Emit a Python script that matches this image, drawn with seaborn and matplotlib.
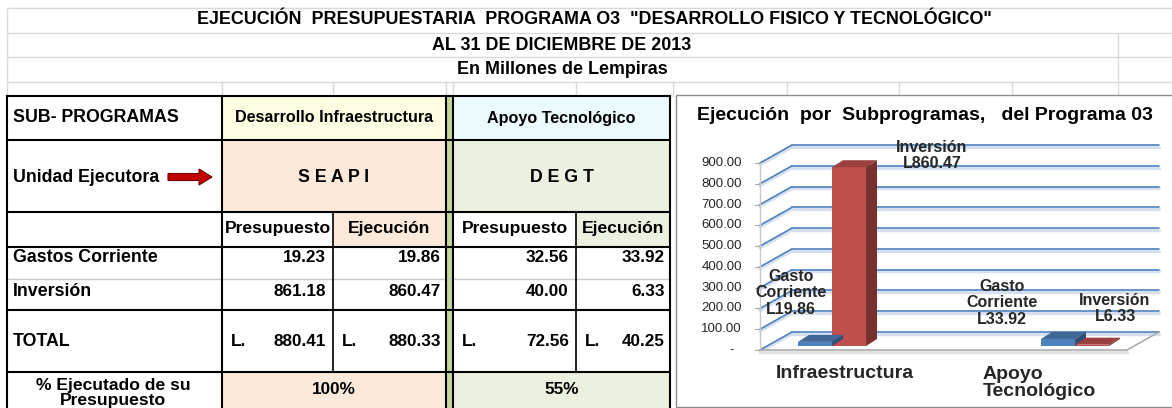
import numpy as np
import pandas as pd
import matplotlib
matplotlib.use("Agg")
import matplotlib.pyplot as plt
import seaborn as sns
from matplotlib.patches import Rectangle, Polygon, FancyArrow
from matplotlib.lines import Line2D
from matplotlib.transforms import IdentityTransform
from matplotlib.ticker import MultipleLocator

# Datos (millones de lempiras)
titulos = ['EJECUCIÓN  PRESUPUESTARIA  PROGRAMA O3  "DESARROLLO FISICO Y TECNOLÓGICO"',
           "AL 31 DE DICIEMBRE DE 2013",
           "En Millones de Lempiras"]
subprogramas = ["Desarrollo Infraestructura", "Apoyo Tecnológico"]
unidades = ["S E A P I", "D E G T"]
columnas = ["Presupuesto", "Ejecución"]
conceptos = ["Gastos Corriente", "Inversión"]
presupuesto_infra = [19.23, 861.18]
ejecucion_infra = [19.86, 860.47]
presupuesto_apoyo = [32.56, 40.00]
ejecucion_apoyo = [33.92, 6.33]
total_presupuesto = [880.41, 72.56]
total_ejecucion = [880.33, 40.25]
porcentaje = ["100%", "55%"]

chart_titulo = "Ejecución  por  Subprogramas,   del Programa 03"
chart_categorias = ["Infraestructura", "Apoyo\nTecnológico"]
chart_series = ["Gasto\nCorriente", "Inversión"]
chart_gasto = [ejecucion_infra[0], ejecucion_apoyo[0]]
chart_inversion = [ejecucion_infra[1], ejecucion_apoyo[1]]

sns.set_style("white")
plt.rcParams["font.family"] = ["Liberation Sans", "DejaVu Sans"]

BLUE = "#4F81BD"
RED = "#C0504D"
GRID = "#D9D9D9"
PEACH = "#FCE9DA"
OLIVE = "#EBF1DE"
YELLOW = "#FFFDE1"
CYAN = "#EBFAFD"
GREENBAR = "#C4D79B"

fig = plt.figure(figsize=(11.72, 4.08), dpi=100)
bg = fig.add_axes([0, 0, 1, 1])
bg.set_xlim(0, 1172)
bg.set_ylim(408, 0)
bg.set_axis_off()


def box(x0, y0, x1, y1, color):
    bg.add_patch(Rectangle((x0, y0), x1 - x0, y1 - y0, facecolor=color, edgecolor="none", zorder=0))


def hl(y, x0, x1, color="black", lw=1.5):
    bg.plot([x0, x1], [y, y], color=color, lw=lw, solid_capstyle="projecting", zorder=2 if color == "black" else 1)


def vl(x, y0, y1, color="black", lw=1.5):
    bg.plot([x, x], [y0, y1], color=color, lw=lw, solid_capstyle="projecting", zorder=2 if color == "black" else 1)


def txt(x, y, s, ha="center", size=12.3, weight="bold", **kw):
    bg.text(x, y, s, ha=ha, va="center", fontsize=size, fontweight=weight, color="black", zorder=3, **kw)


# rejilla de la hoja de calculo
for y in [8, 33, 57, 82]:
    hl(y, 7, 1172, GRID, 1)
vl(7, 8, 96, GRID, 1)
vl(1118, 33, 82, GRID, 1)
for x in [222, 333, 446, 453, 576, 673, 787, 899, 1012, 1118]:
    vl(x, 82, 96, GRID, 1)

txt(594, 20, titulos[0], size=12.9)
txt(562, 45, titulos[1], size=12.9)
txt(562, 69, titulos[2], size=12.9)

# tabla
L, C1, C2, C3, C4, C5, R = 7, 222, 333, 446, 453, 576, 670
T, R1, R2, R3, R4, R5, R6, B = 96, 140, 212, 247, 279, 310, 372, 409

box(C1, T, C3, R1, YELLOW)
box(C4, T, R, R1, CYAN)
box(C1, R1, C3, R2, PEACH)
box(C4, R1, R, R2, OLIVE)
box(C2, R2, C3, R3, PEACH)
box(C5, R2, R, R3, OLIVE)
box(C1, R6, C3, B, PEACH)
box(C4, R6, R, B, OLIVE)
box(C3, T, C4, B, GREENBAR)

hl(R4, L, R, "#C8C8C8", 1)
for y in [T, R1, R2, R3, R5, R6]:
    hl(y, L, R)
for x in [L, C1, C3, C4, R]:
    vl(x, T, B)
vl(C2, R2, R6, lw=1.2)
vl(C5, R2, R6, lw=1.2)

txt(13, 118, "SUB- PROGRAMAS", ha="left", size=12.8)
txt(13, 177, "Unidad Ejecutora", ha="left", size=12.8)
bg.add_patch(FancyArrow(168, 177, 44, 0, width=7, head_width=16, head_length=13,
                        length_includes_head=True, facecolor="#C00000", edgecolor="#6E0000", lw=0.8, zorder=3))

centros = [(C1 + C3) / 2, (C4 + R) / 2]
cols = [(C1, C2, C3), (C4, C5, R)]
presupuestos = [presupuesto_infra, presupuesto_apoyo]
ejecuciones = [ejecucion_infra, ejecucion_apoyo]
for i in range(2):
    a, m, b = cols[i]
    txt(centros[i], 118, subprogramas[i], size=11.6)
    txt(centros[i], 177, unidades[i], size=12.8)
    txt((a + m) / 2, 229, columnas[0], size=12.6)
    txt((m + b) / 2, 229, columnas[1], size=12.6)
    for j, yy in enumerate([258, 292]):
        txt(m - 7, yy, f"{presupuestos[i][j]:.2f}", ha="right")
        txt(b - 5, yy, f"{ejecuciones[i][j]:.2f}", ha="right")
    txt(a + 9, 341, "L.", ha="left")
    txt(m + 9, 341, "L.", ha="left")
    txt(m - 7, 341, f"{total_presupuesto[i]:.2f}", ha="right")
    txt(b - 5, 341, f"{total_ejecucion[i]:.2f}", ha="right")
    txt(centros[i], 389, porcentaje[i])

for j, yy in enumerate([258, 292]):
    txt(13, yy, conceptos[j], ha="left", size=12.8)
txt(13, 341, "TOTAL", ha="left", size=12.8)
txt(113, 393, "% Ejecutado de su\nPresupuesto", size=12.6, linespacing=1.02)

# marco del grafico
bg.add_patch(Rectangle((676, 95), 600, 312, facecolor="white", edgecolor="#8C8C8C", lw=1, zorder=2))
txt(925, 115, chart_titulo, size=14)

# grafico de barras (plano de las barras)
ax = fig.add_axes([767 / 1172, 62 / 408, 367 / 1172, 187 / 408])
ax.set_zorder(3)
df = pd.DataFrame({
    "subprograma": [c for c in chart_categorias for _ in chart_series],
    "tipo": chart_series * len(chart_categorias),
    "monto": [v for pair in zip(chart_gasto, chart_inversion) for v in pair],
})
sns.barplot(data=df, x="subprograma", y="monto", hue="tipo", order=chart_categorias,
            hue_order=chart_series, palette=[BLUE, RED], width=0.28, saturation=1,
            linewidth=0, legend=False, errorbar=None, ax=ax, zorder=4)
ax.set_xlim(-0.2675, 1.2428)
ax.set_ylim(0, 900)
ax.yaxis.set_major_locator(MultipleLocator(100))
ax.set_axis_off()

FRONT = np.array([-7, -4])
BACK = np.array([25, 14])
DEPTH = np.array([11, 7])


def pt(x, y, off=(0, 0)):
    return ax.transData.transform((x, y)) + np.asarray(off)


def line(p, q, color, lw, z=1):
    ax.add_artist(Line2D([p[0], q[0]], [p[1], q[1]], color=color, lw=lw,
                         transform=IdentityTransform(), clip_on=False, zorder=z))


xl, xr = ax.get_xlim()
ticks = [t for t in ax.get_yticks() if 0 <= t <= 900]
for t in ticks:
    f, bk, br = pt(xl, t, FRONT), pt(xl, t, BACK), pt(xr, t, BACK)
    sh = np.array([0, -1.8])
    line(f + sh, bk + sh, "#D5E1F0", 2.4)
    line(bk + sh, br + sh, "#D5E1F0", 2.4)
    line(f, bk, BLUE, 1.2)
    line(bk, br, BLUE, 1.2)
    line(f - np.array([5, 0]), f, "#A6A6A6", 0.8)
    lab = f"{t:.2f}" if t > 0 else "-"
    ax.text(f[0] - (18 if t > 0 else 26), f[1], lab, transform=IdentityTransform(),
            ha="right", va="center", fontsize=9.5, clip_on=False)

# suelo y pared frontal
f0, f9 = pt(xl, 0, FRONT), pt(xl, 900, FRONT)
fr0, br0 = pt(xr, 0, FRONT), pt(xr, 0, BACK)
line(f0, f9, "#C8C8C8", 1)
line(f0 + [0, -2], fr0 + [0, -2], "#E3E3E3", 2.5)
line(f0, fr0, "#A6A6A6", 1.1)
line(fr0, br0, "#A6A6A6", 1.1)

# caras 3D de las barras y etiquetas
offsets = {(0, 0): (-24, 49), (0, 1): (83, 12), (1, 0): (-56, 36), (1, 1): (23, 36)}
for p in list(ax.patches):
    x0, w, h = p.get_x(), p.get_width(), p.get_height()
    x1 = x0 + w
    c = np.array(p.get_facecolor()[:3])
    a, b, cc, d = pt(x0, 0), pt(x1, 0), pt(x1, h), pt(x0, h)
    ax.add_artist(Polygon([d, cc, cc + DEPTH, d + DEPTH], closed=True, facecolor=c * 0.8,
                          edgecolor="none", transform=IdentityTransform(), clip_on=False, zorder=4))
    ax.add_artist(Polygon([b, cc, cc + DEPTH, b + DEPTH], closed=True, facecolor=c * 0.62,
                          edgecolor="none", transform=IdentityTransform(), clip_on=False, zorder=4))
    cat = int(round(x0 + w / 2))
    serie = 0 if (x0 + w / 2) < cat else 1
    valor = chart_gasto[cat] if serie == 0 else chart_inversion[cat]
    ax.annotate(f"{chart_series[serie]}\nL{valor:.2f}", xy=(x0 + w / 2, h),
                xytext=offsets[(cat, serie)], textcoords="offset pixels",
                ha="center", va="center", fontsize=11.5, fontweight="bold",
                linespacing=1.1, annotation_clip=False, zorder=6)

# etiquetas de categorias
ax.annotate(chart_categorias[0], xy=(0, 0), xytext=(13, -28), textcoords="offset pixels",
            ha="center", va="center", fontsize=14, fontweight="bold", annotation_clip=False)
ax.annotate(chart_categorias[1], xy=(1, 0), xytext=(-92, -37), textcoords="offset pixels",
            ha="left", va="center", fontsize=14, fontweight="bold", linespacing=1.0,
            annotation_clip=False)

fig.savefig("out.png", dpi=100)
